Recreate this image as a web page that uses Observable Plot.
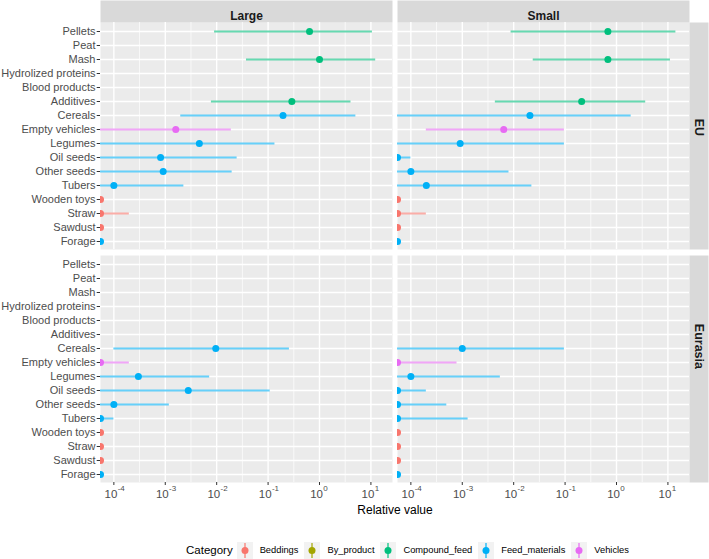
<!DOCTYPE html>
<html>
<head>
<meta charset="utf-8">
<script src="https://cdn.jsdelivr.net/npm/d3@7"></script>
<script src="https://cdn.jsdelivr.net/npm/@observablehq/plot@0.6"></script>
<style>
  html, body { margin: 0; padding: 0; background: #fff; }
  body { width: 709px; height: 559px; overflow: hidden; font-family: "Liberation Sans", Arial, sans-serif; }
  #legend { position: relative; height: 39px; display: flex; align-items: center; padding-left: 186px; padding-top: 21px; box-sizing: border-box; }
  #legend .title { font-size: 11.5px; color: #000; margin-right: 4px; }
  #legend .item { display: flex; align-items: center; margin-right: 6px; }
  #legend .item span { font-size: 9.3px; color: #000; margin-left: 7px; }
</style>
</head>
<body>
<div id="chart"></div>
<div id="legend"></div>
<script>
// ---- data ----
const sizes = ["Large", "Small"];
const regions = ["EU", "Eurasia"];
const items = ["Pellets", "Peat", "Mash", "Hydrolized proteins", "Blood products", "Additives",
  "Cereals", "Empty vehicles", "Legumes", "Oil seeds", "Other seeds", "Tubers",
  "Wooden toys", "Straw", "Sawdust", "Forage"];
const itemCategory = ["Compound_feed", "Beddings", "Compound_feed", "By_product", "By_product", "Compound_feed",
  "Feed_materials", "Vehicles", "Feed_materials", "Feed_materials", "Feed_materials", "Feed_materials",
  "Beddings", "Beddings", "Beddings", "Feed_materials"];
const categories = ["Beddings", "By_product", "Compound_feed", "Feed_materials", "Vehicles"];
const categoryColors = ["#F8766D", "#A3A500", "#00BF7D", "#00B0F6", "#E76BF3"];
const xTicks = [1e-4, 1e-3, 1e-2, 1e-1, 1, 10];
const xMinorTicks = [10 ** -3.5, 10 ** -2.5, 10 ** -1.5, 10 ** -0.5, 10 ** 0.5];
const E = 5.5e-5; // values at the left limit of the axis

// [item, low, value, high]
const euLarge = [
  ["Pellets", 9.1e-3, 0.64, 10.7],
  ["Mash", 0.038, 1.0, 12.4],
  ["Additives", 7.9e-3, 0.29, 4.1],
  ["Cereals", 2.0e-3, 0.195, 5.1],
  ["Empty vehicles", E, 1.6e-3, 0.0193],
  ["Legumes", E, 4.6e-3, 0.136],
  ["Oil seeds", E, 8.1e-4, 0.025],
  ["Other seeds", E, 9.1e-4, 0.020],
  ["Tubers", E, 1.0e-4, 2.3e-3],
  ["Wooden toys", E, E, E],
  ["Straw", E, E, 2.0e-4],
  ["Sawdust", E, E, E],
  ["Forage", E, E, E]
];
const euSmall = [
  ["Pellets", 8.9e-3, 0.68, 14.3],
  ["Mash", 0.024, 0.68, 11.2],
  ["Additives", 4.4e-3, 0.21, 3.7],
  ["Cereals", E, 0.0207, 1.93],
  ["Empty vehicles", 2.0e-4, 6.4e-3, 0.097],
  ["Legumes", E, 9.1e-4, 0.097],
  ["Oil seeds", E, E, 1.0e-4],
  ["Other seeds", E, 1.0e-4, 8.1e-3],
  ["Tubers", E, 2.0e-4, 0.0226],
  ["Wooden toys", E, E, E],
  ["Straw", E, E, 2.0e-4],
  ["Sawdust", E, E, E],
  ["Forage", E, E, E]
];
const eurasiaLarge = [
  ["Cereals", 1.0e-4, 9.6e-3, 0.26],
  ["Empty vehicles", E, E, 2.0e-4],
  ["Legumes", E, 3.0e-4, 7.3e-3],
  ["Oil seeds", E, 2.8e-3, 0.11],
  ["Other seeds", E, 1.0e-4, 1.2e-3],
  ["Tubers", E, E, 1.0e-4],
  ["Wooden toys", E, E, E],
  ["Straw", E, E, E],
  ["Sawdust", E, E, E],
  ["Forage", E, E, E]
];
const eurasiaSmall = [
  ["Cereals", E, 1.0e-3, 0.097],
  ["Empty vehicles", E, E, 7.9e-4],
  ["Legumes", E, 1.0e-4, 5.5e-3],
  ["Oil seeds", E, E, 2.0e-4],
  ["Other seeds", E, E, 5.0e-4],
  ["Tubers", E, E, 1.3e-3],
  ["Wooden toys", E, E, E],
  ["Straw", E, E, E],
  ["Sawdust", E, E, E],
  ["Forage", E, E, E]
];

// ---- table ----
const catOf = new Map(items.map((d, i) => [d, itemCategory[i]]));
const panels = [
  ["EU", "Large", euLarge], ["EU", "Small", euSmall],
  ["Eurasia", "Large", eurasiaLarge], ["Eurasia", "Small", eurasiaSmall]
];
const rows = panels.flatMap(([region, size, arr]) =>
  arr.map(([item, lo, mid, hi]) => ({region, size, item, lo, mid, hi, category: catOf.get(item)})));

// ---- layout ----
const W = 709, H = 520;
const mL = 100, mR = 19, mT = 22, mB = 38;
const padX = 0.0168, padY = 0.026;
const tickColor = "#333333", textColor = "#4D4D4D";

const chart = Plot.plot({
  width: W, height: H,
  marginLeft: mL, marginRight: mR, marginTop: mT, marginBottom: mB,
  style: {fontFamily: '"Liberation Sans", Arial, sans-serif', background: "#fff"},
  fx: {domain: sizes, padding: padX, axis: null, label: null},
  fy: {domain: regions, padding: padY, axis: null, label: null},
  x: {type: "log", domain: [10 ** -4.26, 10 ** 1.42], axis: null},
  y: {type: "point", domain: items, padding: 0.6, axis: null},
  color: {domain: categories, range: categoryColors},
  marks: [
    Plot.frame({fill: "#EBEBEB", stroke: "none"}),
    // strips
    Plot.frame({anchor: "top", stroke: "#D9D9D9", strokeWidth: 22, strokeLinecap: "butt", insetTop: -11, facetAnchor: "top"}),
    Plot.frame({anchor: "right", stroke: "#D9D9D9", strokeWidth: 19, strokeLinecap: "butt", insetRight: -9.5, facetAnchor: "right"}),
    Plot.text(sizes, {fx: d => d, text: d => d, frameAnchor: "top", dy: -11, facetAnchor: "top",
      fontWeight: "bold", fontSize: 12, fill: "#1A1A1A"}),
    Plot.text(regions, {fy: d => d, text: d => d, frameAnchor: "right", dx: 9.5, rotate: 90, facetAnchor: "right",
      fontWeight: "bold", fontSize: 12.5, fill: "#1A1A1A"}),
    // grid
    Plot.ruleX(xMinorTicks, {stroke: "white", strokeWidth: 0.7}),
    Plot.ruleX(xTicks, {stroke: "white", strokeWidth: 1.4}),
    Plot.ruleY(items, {stroke: "white", strokeWidth: 1.4}),
    // data
    Plot.ruleY(rows, {fx: "size", fy: "region", y: "item", x1: "lo", x2: "hi", stroke: "category",
      strokeWidth: 2, strokeOpacity: 0.6, clip: true}),
    Plot.dot(rows, {fx: "size", fy: "region", x: "mid", y: "item", fill: "category", r: 3.5, clip: true}),
    // axes
    Plot.axisY({tickSize: 3.3, tickPadding: 1.7, fontSize: 11, stroke: tickColor, fill: textColor, label: null}),
    Plot.axisX({ticks: xTicks, tickSize: 3, tickFormat: () => "", stroke: tickColor, label: null}),
    Plot.text(xTicks, {x: d => d, text: () => "10", frameAnchor: "bottom", dy: 15, dx: 3.5,
      textAnchor: "end", fontSize: 11.5, fill: textColor, facetAnchor: "bottom"}),
    Plot.text(xTicks, {x: d => d, text: d => String(Math.round(Math.log10(d))), frameAnchor: "bottom",
      dy: 8.3, dx: 3.8, textAnchor: "start", fontSize: 8, fill: textColor, facetAnchor: "bottom"}),
    Plot.text(["Relative value"], {facet: "super", frameAnchor: "bottom", dy: 31, fontSize: 12, fill: "#000"})
  ]
});
document.getElementById("chart").appendChild(chart);

// ---- legend ----
const legend = d3.select("#legend");
legend.append("span").attr("class", "title").text("Category");
categories.forEach((c, i) => {
  const it = legend.append("div").attr("class", "item");
  const s = it.append("svg").attr("width", 16).attr("height", 17);
  s.append("rect").attr("width", 16).attr("height", 17).attr("fill", "#F2F2F2");
  s.append("line").attr("x1", 8).attr("x2", 8).attr("y1", 1).attr("y2", 16)
    .attr("stroke", categoryColors[i]).attr("stroke-width", 2).attr("stroke-opacity", 0.6);
  s.append("circle").attr("cx", 8).attr("cy", 8.5).attr("r", 3.5).attr("fill", categoryColors[i]);
  it.append("span").text(c);
});
</script>
</body>
</html>
